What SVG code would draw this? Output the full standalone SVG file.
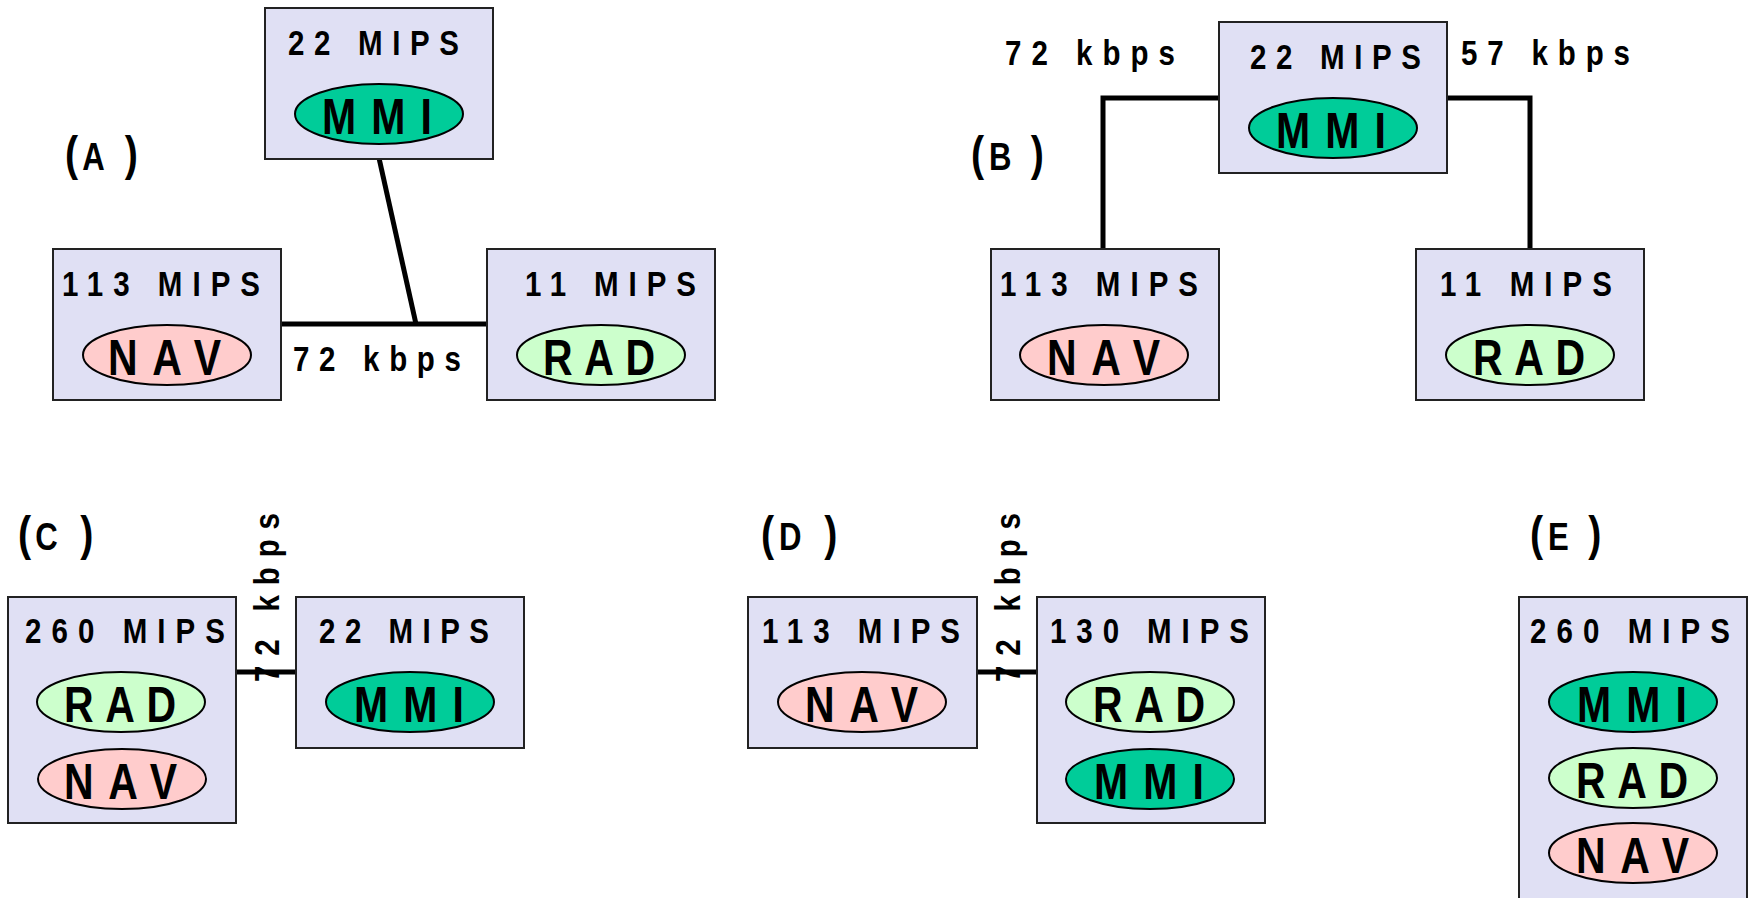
<svg xmlns="http://www.w3.org/2000/svg" width="1748" height="898" viewBox="0 0 1748 898">
<style>
.box{fill:#e0e0f4;stroke:#222;stroke-width:2}
.mmi{fill:#00cc99;stroke:#000;stroke-width:2}
.rad{fill:#ccffcc;stroke:#000;stroke-width:2}
.nav{fill:#ffcccc;stroke:#000;stroke-width:2}
text{font-family:"Liberation Sans",Arial,sans-serif;font-weight:bold;fill:#000}
.t{font-size:36px}
.e{font-size:50px}
.p{font-size:48px}
.l{font-size:38px}
.wire{fill:none;stroke:#000;stroke-width:5}
</style>
<rect width="1748" height="898" fill="#fff"/>

<!-- Panel labels -->
<text class="l" transform="translate(65,170) scale(0.82,1)"><tspan class="p" x="0">(</tspan><tspan x="21">A</tspan><tspan class="p" x="73">)</tspan></text>
<text class="l" transform="translate(971,170) scale(0.82,1)"><tspan class="p" x="0">(</tspan><tspan x="22">B</tspan><tspan class="p" x="73">)</tspan></text>
<text class="l" transform="translate(18,550) scale(0.82,1)"><tspan class="p" x="0">(</tspan><tspan x="21">C</tspan><tspan class="p" x="76">)</tspan></text>
<text class="l" transform="translate(761,550) scale(0.82,1)"><tspan class="p" x="0">(</tspan><tspan x="22">D</tspan><tspan class="p" x="77">)</tspan></text>
<text class="l" transform="translate(1530,550) scale(0.82,1)"><tspan class="p" x="0">(</tspan><tspan x="22">E</tspan><tspan class="p" x="71">)</tspan></text>

<!-- Connectors -->
<g id="connectors">
<line class="wire" x1="281" y1="324" x2="487" y2="324"/>
<line class="wire" x1="379" y1="158" x2="416" y2="324" stroke-width="4"/>
<text class="t" transform="translate(293,371) scale(0.82,1)" textLength="204.9" lengthAdjust="spacing">72 kbps</text>
<polyline class="wire" points="1219,98 1103,98 1103,249"/>
<polyline class="wire" points="1447,98 1530,98 1530,249"/>
<text class="t" transform="translate(1005,65) scale(0.82,1)" textLength="207.3" lengthAdjust="spacing">72 kbps</text>
<text class="t" transform="translate(1461,65) scale(0.82,1)" textLength="206.1" lengthAdjust="spacing">57 kbps</text>
<line class="wire" x1="236" y1="672" x2="296" y2="672"/>
<text class="t" transform="translate(279,682) rotate(-90) scale(0.82,1)" textLength="206.1" lengthAdjust="spacing">72 kbps</text>
<line class="wire" x1="977" y1="672" x2="1037" y2="672"/>
<text class="t" transform="translate(1020,682) rotate(-90) scale(0.82,1)" textLength="206.1" lengthAdjust="spacing">72 kbps</text>
</g>

<!-- Panel A -->
<g id="a-mmi">
<rect class="box" x="265" y="8" width="228" height="151"/>
<text class="t" transform="translate(288,55) scale(0.82,1)" textLength="208.5" lengthAdjust="spacing">22 MIPS</text>
<ellipse class="mmi" cx="379" cy="114" rx="84" ry="30"/>
<text class="e" transform="translate(322,134) scale(0.82,1)" textLength="134.1" lengthAdjust="spacing">MMI</text>
</g>
<g id="a-nav">
<rect class="box" x="53" y="249" width="228" height="151"/>
<text class="t" transform="translate(62,296) scale(0.82,1)" textLength="241.5" lengthAdjust="spacing">113 MIPS</text>
<ellipse class="nav" cx="167" cy="355" rx="84" ry="30"/>
<text class="e" transform="translate(108,375) scale(0.82,1)" textLength="137.8" lengthAdjust="spacing">NAV</text>
</g>
<g id="a-rad">
<rect class="box" x="487" y="249" width="228" height="151"/>
<text class="t" transform="translate(525,296) scale(0.82,1)" textLength="208.5" lengthAdjust="spacing">11 MIPS</text>
<ellipse class="rad" cx="601" cy="355" rx="84" ry="30"/>
<text class="e" transform="translate(543,375) scale(0.82,1)" textLength="136.6" lengthAdjust="spacing">RAD</text>
</g>

<!-- Panel B -->
<g id="b-mmi">
<rect class="box" x="1219" y="22" width="228" height="151"/>
<text class="t" transform="translate(1250,69) scale(0.82,1)" textLength="208.5" lengthAdjust="spacing">22 MIPS</text>
<ellipse class="mmi" cx="1333" cy="128" rx="84" ry="30"/>
<text class="e" transform="translate(1276,148) scale(0.82,1)" textLength="134.1" lengthAdjust="spacing">MMI</text>
</g>
<g id="b-nav">
<rect class="box" x="991" y="249" width="228" height="151"/>
<text class="t" transform="translate(1000,296) scale(0.82,1)" textLength="241.5" lengthAdjust="spacing">113 MIPS</text>
<ellipse class="nav" cx="1104" cy="355" rx="84" ry="30"/>
<text class="e" transform="translate(1047,375) scale(0.82,1)" textLength="137.8" lengthAdjust="spacing">NAV</text>
</g>
<g id="b-rad">
<rect class="box" x="1416" y="249" width="228" height="151"/>
<text class="t" transform="translate(1440,296) scale(0.82,1)" textLength="209.8" lengthAdjust="spacing">11 MIPS</text>
<ellipse class="rad" cx="1530" cy="355" rx="84" ry="30"/>
<text class="e" transform="translate(1473,375) scale(0.82,1)" textLength="136.6" lengthAdjust="spacing">RAD</text>
</g>

<!-- Panel C -->
<g id="c-left">
<rect class="box" x="8" y="597" width="228" height="226"/>
<text class="t" transform="translate(25,643) scale(0.82,1)" textLength="243.9" lengthAdjust="spacing">260 MIPS</text>
<ellipse class="rad" cx="121" cy="702" rx="84" ry="30"/>
<text class="e" transform="translate(64,722) scale(0.82,1)" textLength="136.6" lengthAdjust="spacing">RAD</text>
<ellipse class="nav" cx="122" cy="779" rx="84" ry="30"/>
<text class="e" transform="translate(64,799) scale(0.82,1)" textLength="137.8" lengthAdjust="spacing">NAV</text>
</g>
<g id="c-right">
<rect class="box" x="296" y="597" width="228" height="151"/>
<text class="t" transform="translate(319,643) scale(0.82,1)" textLength="207.3" lengthAdjust="spacing">22 MIPS</text>
<ellipse class="mmi" cx="410" cy="702" rx="84" ry="30"/>
<text class="e" transform="translate(354,722) scale(0.82,1)" textLength="134.1" lengthAdjust="spacing">MMI</text>
</g>

<!-- Panel D -->
<g id="d-left">
<rect class="box" x="748" y="597" width="229" height="151"/>
<text class="t" transform="translate(762,643) scale(0.82,1)" textLength="241.5" lengthAdjust="spacing">113 MIPS</text>
<ellipse class="nav" cx="862" cy="702" rx="84" ry="30"/>
<text class="e" transform="translate(805,722) scale(0.82,1)" textLength="137.8" lengthAdjust="spacing">NAV</text>
</g>
<g id="d-right">
<rect class="box" x="1037" y="597" width="228" height="226"/>
<text class="t" transform="translate(1050,643) scale(0.82,1)" textLength="242.7" lengthAdjust="spacing">130 MIPS</text>
<ellipse class="rad" cx="1150" cy="702" rx="84" ry="30"/>
<text class="e" transform="translate(1093,722) scale(0.82,1)" textLength="136.6" lengthAdjust="spacing">RAD</text>
<ellipse class="mmi" cx="1150" cy="779" rx="84" ry="30"/>
<text class="e" transform="translate(1094,799) scale(0.82,1)" textLength="134.1" lengthAdjust="spacing">MMI</text>
</g>

<!-- Panel E -->
<g id="e-box">
<rect class="box" x="1519" y="597" width="228" height="320"/>
<text class="t" transform="translate(1530,643) scale(0.82,1)" textLength="243.9" lengthAdjust="spacing">260 MIPS</text>
<ellipse class="mmi" cx="1633" cy="702" rx="84" ry="30"/>
<text class="e" transform="translate(1577,722) scale(0.82,1)" textLength="134.1" lengthAdjust="spacing">MMI</text>
<ellipse class="rad" cx="1633" cy="778" rx="84" ry="30"/>
<text class="e" transform="translate(1576,798) scale(0.82,1)" textLength="136.6" lengthAdjust="spacing">RAD</text>
<ellipse class="nav" cx="1633" cy="853" rx="84" ry="30"/>
<text class="e" transform="translate(1576,873) scale(0.82,1)" textLength="137.8" lengthAdjust="spacing">NAV</text>
</g>
</svg>
